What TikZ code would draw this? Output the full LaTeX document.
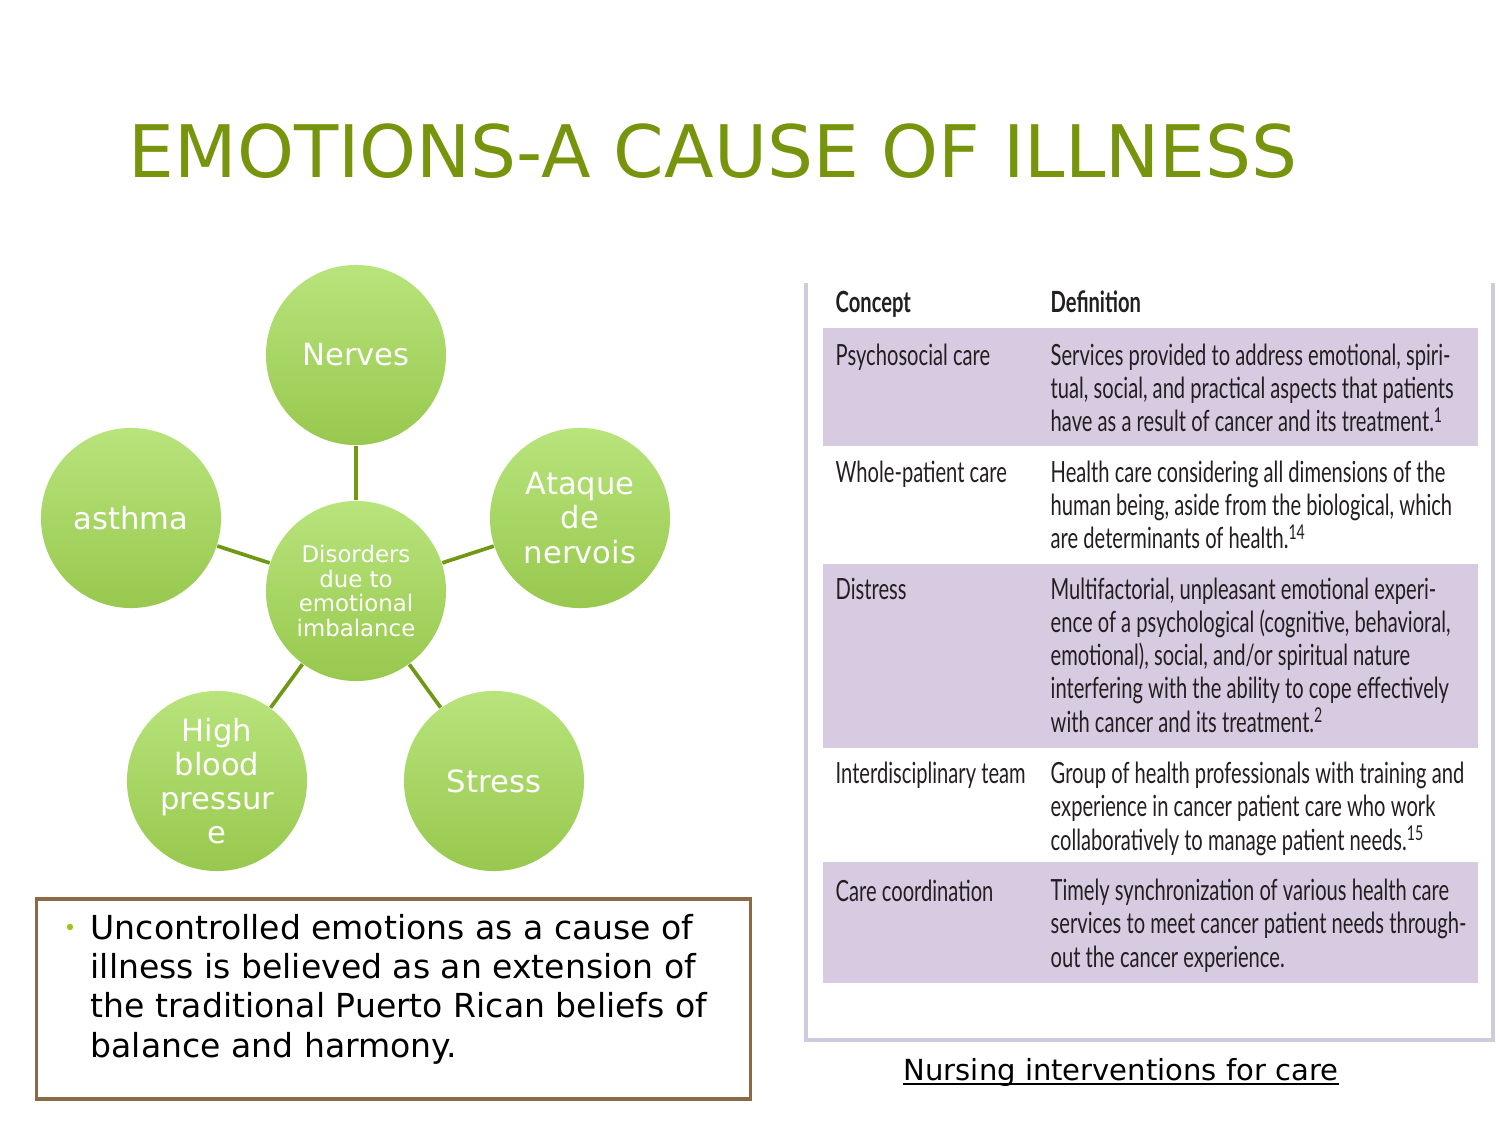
\documentclass[tikz,border=0pt]{standalone}
\usepackage{fontspec}
\setmainfont{DejaVu Sans}
\newfontfamily\tblfont[FakeStretch=0.69]{Lato}
\usetikzlibrary{positioning}
\definecolor{titleclr}{RGB}{118,148,12}
\definecolor{bubtop}{RGB}{184,228,124}
\definecolor{bubbot}{RGB}{152,200,78}
\definecolor{spokeclr}{RGB}{112,152,18}
\definecolor{noteclr}{RGB}{140,106,72}
\definecolor{dotclr}{RGB}{150,200,20}
\definecolor{rowfill}{RGB}{215,203,225}
\definecolor{frameclr}{RGB}{208,204,224}
\definecolor{celltext}{RGB}{35,31,32}
\tikzset{
  bubble/.style={circle,minimum size=1.8cm,inner sep=0pt,draw=none,
    top color=bubtop,bottom color=bubbot,text=white,align=center,
    font=\fontsize{8.7}{9.7}\selectfont},
  hub/.style={bubble,font=\fontsize{6.5}{7}\selectfont},
  spoke/.style={draw=spokeclr,line width=1.05pt},
  notebox/.style={rectangle,draw=noteclr,line width=0.9pt,fill=white,
    minimum width=7.13cm,minimum height=2.0cm,inner sep=0pt},
  notetxt/.style={anchor=base west,inner sep=0pt,align=left,
    font=\fontsize{9.4}{11.1}\selectfont},
  cell/.style={anchor=base west,inner sep=0pt,align=left,text=celltext,
    font=\tblfont\fontsize{8.3}{9.4}\selectfont},
  hdr/.style={cell,font=\tblfont\bfseries\fontsize{8.3}{9.4}\selectfont},
  rowbg/.style={fill=rowfill,draw=none},
}

\begin{document}
\begin{tikzpicture}[x=0.01cm,y=-0.01cm]
  \useasboundingbox[fill=white] (0,0) rectangle (1500,1125);

  % title
  \node[anchor=base west,inner sep=0pt,text=titleclr,
        font=\fontsize{20.6}{24}\selectfont] (ttl) at (128,178)
        {EMOTIONS-A CAUSE OF ILLNESS};

  % bubbles
  \node[hub]    (core)   at (356,591) {Disorders\\due to\\emotional\\imbalance};
  \node[bubble] (nerves) at (356,355) {Nerves};
  \node[bubble] (ataque) at (580,518) {Ataque\\de\\nervois};
  \node[bubble] (stress) at (494,781) {Stress};
  \node[bubble] (hbp)    at (217,781) {High\\blood\\pressur\\e};
  \node[bubble] (asthma) at (131,518) {asthma};

  \foreach \n in {nerves,ataque,stress,hbp,asthma}
    \draw[spoke] (core) -- (\n);

  % note box (multi-line nodes: base = last line)
  \node[notebox] (note) at (393.5,999) {};
  \fill[dotclr] (70,927) circle (3.2);
  \node[notetxt] (notetext) at (90,1057)
    {Uncontrolled emotions as a cause of\\
     illness is believed as an extension of\\
     the traditional Puerto Rican beliefs of\\
     balance and harmony.};

  % table frame
  \draw[frameclr,line width=0.9pt] (806,283) -- (806,1040) -- (1493,1040) -- (1493,283);
  \fill[rowbg] (823,328) rectangle (1478,446);
  \fill[rowbg] (823,564) rectangle (1478,748);
  \fill[rowbg] (823,862) rectangle (1478,983);

  \node[hdr] (hconcept) at (835,313) {Concept};
  \node[hdr] (hdef)     at (1050,313) {Definition};

  \node[cell] (c1) at (835,366) {Psychosocial care};
  \node[cell] (d1) at (1050,432)
    {Services provided to address emotional, spiri-\\
     tual, social, and practical aspects that patients\\
     have as a result of cancer and its treatment.\textsuperscript{1}};
  \node[cell] (c2) at (835,483) {Whole-patient care};
  \node[cell] (d2) at (1050,549)
    {Health care considering all dimensions of the\\
     human being, aside from the biological, which\\
     are determinants of health.\textsuperscript{14}};
  \node[cell] (c3) at (835,600) {Distress};
  \node[cell] (d3) at (1050,732)
    {Multifactorial, unpleasant emotional experi-\\
     ence of a psychological (cognitive, behavioral,\\
     emotional), social, and/or spiritual nature\\
     interfering with the ability to cope effectively\\
     with cancer and its treatment.\textsuperscript{2}};
  \node[cell] (c4) at (835,784) {Interdisciplinary team};
  \node[cell] (d4) at (1050,850)
    {Group of health professionals with training and\\
     experience in cancer patient care who work\\
     collaboratively to manage patient needs.\textsuperscript{15}};
  \node[cell] (c5) at (835,901) {Care coordination};
  \node[cell] (d5) at (1050,967)
    {Timely synchronization of various health care\\
     services to meet cancer patient needs through-\\
     out the cancer experience.};

  % caption
  \node[anchor=base west,inner sep=0pt,font=\fontsize{8.26}{10}\selectfont]
    (cap) at (903,1080) {Nursing interventions for care};
  \draw[line width=0.55pt] ([yshift=-1.1pt]cap.base west) -- ([yshift=-1.1pt]cap.base east);
\end{tikzpicture}
\end{document}
